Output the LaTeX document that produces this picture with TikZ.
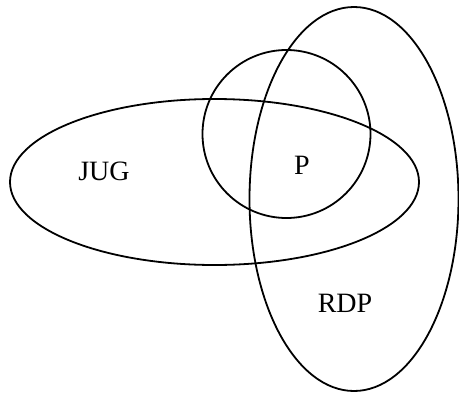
\documentclass[tikz,border=0pt]{standalone}
\usepackage{fontspec}
\setmainfont{Liberation Serif}
\usetikzlibrary{positioning}
\tikzset{
  setline/.style={black, line width=1.8pt},
  setlabel/.style={anchor=base, inner sep=0pt, font=\fontsize{28}{32}\selectfont}
}

\begin{document}
\begin{tikzpicture}[x=1pt, y=-1pt]
  \useasboundingbox (0,0) rectangle (459,394);
  % Sets
  \draw[setline] (214.5,182) ellipse [x radius=204.5, y radius=83];
  \draw[setline] (354,199) ellipse [x radius=104.5, y radius=192];
  \draw[setline] (286.5,134) circle [radius=84];
  % Labels
  \node[setlabel] (jug) at (104,180) {JUG};
  \node[setlabel] (p) at (302,174) {P};
  \node[setlabel] (rdp) at (345,312) {RDP};
\end{tikzpicture}
\end{document}
